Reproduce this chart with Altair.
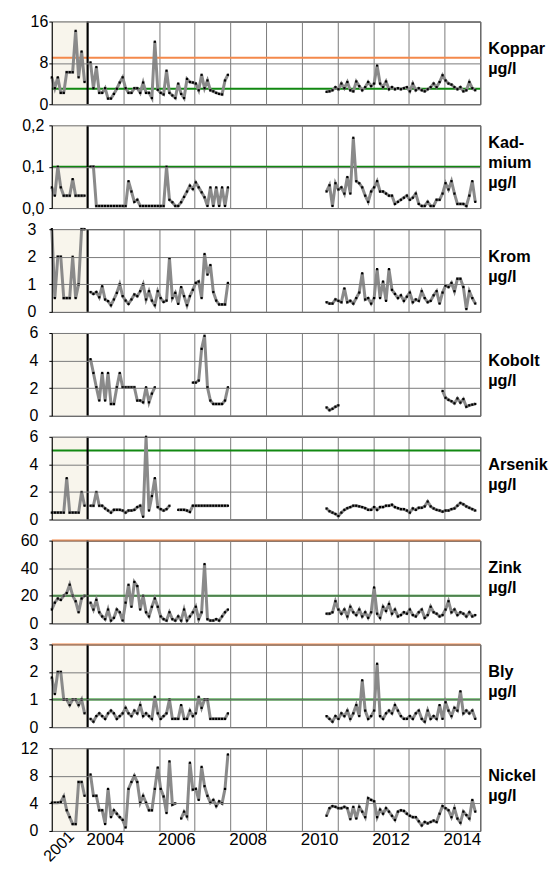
import altair as alt
import pandas as pd

# ---------------- data (µg/l) ----------------
# 2001 (12 samples), 2004-2007 (48 monthly), Sep 2010 - Nov 2014 (51 monthly)
koppar_2001 = [5.2, 3.1, 5.2, 2.2, 2.2, 6.2, 6.2, 6.2, 14.2, 5.2, 10.2, 4.3]
koppar_0407 = [8.1, 3.1, 7.2, 2.2, 2.2, 3.1, 1.1, 1.1, 2.0, 3.0, 4.2, 5.2, 3.1, 2.2, 2.2, 3.1,
               3.1, 2.2, 4.2, 2.2, 2.2, 1.2, 12.1, 2.8, 2.2, 1.9, 6.5, 2.2, 1.7, 1.2, 4.0, 2.0,
               1.2, 4.9, 4.3, 4.2, 4.0, 2.7, 5.7, 3.1, 4.6, 2.7, 2.5, 2.2, 2.0, 1.9, 4.6, 5.7]
koppar_1014 = [2.4, 2.5, 2.7, 3.3, 2.9, 4.0, 3.1, 4.3, 2.7, 2.5, 4.4, 3.5, 2.7, 3.3, 4.3, 3.5, 4.0,
               7.5, 4.0, 3.3, 4.4, 2.9, 3.3, 2.9, 3.1, 2.9, 3.1, 3.3, 2.5, 4.0, 2.7, 3.1, 2.7, 2.5,
               2.9, 3.3, 4.0, 3.3, 4.3, 5.6, 4.6, 4.0, 3.8, 3.3, 2.9, 3.3, 2.5, 2.7, 4.3, 3.1, 2.7]

kadmium_2001 = [0.05, 0.03, 0.1, 0.05, 0.03, 0.03, 0.03, 0.07, 0.03, 0.03, 0.03, 0.03]
kadmium_0407 = [0.1, 0.1, 0.005, 0.005, 0.005, 0.005, 0.005, 0.005, 0.005, 0.005, 0.005, 0.005,
                0.005, 0.065, 0.04, 0.015, 0.02, 0.005, 0.005, 0.005, 0.005, 0.005, 0.005, 0.005,
                0.005, 0.005, 0.1, 0.02, 0.014, 0.005, 0.005, 0.014, 0.027, 0.04, 0.054, 0.046,
                0.062, 0.05, 0.038, 0.026, 0.005, 0.05, 0.005, 0.05, 0.005, 0.05, 0.005, 0.05]
kadmium_1014 = [0.04, 0.055, 0.005, 0.06, 0.045, 0.05, 0.035, 0.075, 0.035, 0.17, 0.065, 0.06,
                0.05, 0.03, 0.015, 0.04, 0.05, 0.065, 0.04, 0.04, 0.035, 0.03, 0.03, 0.01, 0.015,
                0.02, 0.025, 0.03, 0.02, 0.025, 0.035, 0.01, 0.005, 0.005, 0.015, 0.005, 0.005,
                0.02, 0.02, 0.035, 0.06, 0.045, 0.065, 0.035, 0.01, 0.01, 0.01, 0.005, 0.03,
                0.065, 0.015]

krom_2001 = [3.0, 0.5, 2.0, 2.0, 0.5, 0.5, 0.5, 2.0, 0.5, 1.0, 3.0, 3.0]
krom_0407 = [0.72, 0.65, 0.72, 0.53, 0.93, 0.45, 0.39, 0.24, 0.45, 0.69, 1.0, 0.57, 0.41, 0.29,
             0.45, 0.63, 0.57, 0.75, 1.0, 0.45, 0.75, 0.41, 0.24, 0.75, 0.5, 0.36, 0.41, 1.95,
             0.5, 0.69, 0.29, 0.9, 0.57, 0.24, 0.57, 0.8, 1.05, 1.1, 0.5, 2.1, 1.35, 1.7, 0.72,
             0.41, 0.27, 0.27, 0.27, 1.05]
krom_1014 = [0.35, 0.3, 0.3, 0.45, 0.4, 0.35, 0.85, 0.35, 0.4, 0.3, 0.5, 0.7, 1.4, 0.45, 0.5,
             0.3, 0.5, 1.55, 0.5, 1.1, 0.4, 1.55, 0.8, 0.65, 0.5, 0.6, 0.4, 0.55, 0.7, 0.35,
             0.45, 0.4, 0.75, 0.5, 0.35, 0.4, 0.6, 0.75, 0.3, 0.7, 0.95, 0.9, 1.05, 0.75, 1.2,
             1.2, 0.9, 0.1, 0.75, 0.5, 0.3]

kobolt_2001 = [None] * 12
kobolt_0407 = [4.1, 3.1, 2.06, 1.1, 3.1, 1.1, 3.1, 0.85, 0.85, 2.06, 3.1, 2.06, 2.06, 2.06, 2.06,
               2.06, 1.1, 1.1, 0.97, 2.06, 0.97, 1.6, 2.06,
               None, None, None, None, None, None, None, None, None, None, None, None,
               2.4, 2.4, 2.55, 4.85, 5.8, 2.06, 1.1, 0.85, 0.85, 0.85, 0.85, 1.1, 2.06]
kobolt_1014 = [0.6, 0.4, 0.5, 0.65, 0.75] + [None] * 34 + \
              [1.8, 1.3, 1.15, 1.05, 0.9, 1.25, 0.95, 1.2, 0.65, 0.75, 0.8, 0.85]

arsenik_2001 = [0.5, 0.5, 0.5, 0.5, 0.5, 3.0, 0.5, 0.5, 0.5, 0.5, 2.0, 1.0]
arsenik_0407 = [1.0, 1.0, 2.0, 1.0, 1.0, 0.8, 0.65, 0.5, 0.7, 0.7, 0.7, 0.65, 0.5, 0.65, 0.65,
                0.7, 0.9, 1.0, 0.2, 6.0, 0.65, 1.7, 3.0, 0.9, 0.75, 0.65, 0.75, 1.0, None, None,
                0.7, 0.7, 0.7, 0.65, 0.55, 1.0, 1.0, 1.0, 1.0, 1.0, 1.0, 1.0, 1.0, 1.0, 1.0,
                1.0, 1.0, 1.0]
arsenik_1014 = [0.8, 0.6, 0.5, 0.4, 0.25, 0.5, 0.7, 0.82, 0.9, 1.0, 1.0, 0.95, 0.9, 0.82, 0.7,
                0.7, 0.9, 0.7, 0.9, 0.9, 1.0, 1.0, 1.07, 0.9, 0.82, 0.75, 0.75, 0.65, 0.5, 0.8,
                0.7, 0.85, 0.85, 0.95, 1.3, 0.95, 0.8, 0.7, 0.65, 0.57, 0.65, 0.65, 0.75, 0.8,
                1.0, 1.2, 1.1, 0.95, 0.85, 0.75, 0.65]

zink_2001 = [10, 15, 18, 17, 20, 22, 28, 20, 16, 8, 18, 20]
zink_0407 = [15, 10, 17, 8, 5, 3, 10, 2, 4, 10, 8, 2, 15, 28, 12, 30, 27, 10, 20, 8, 5, 12, 18,
             12, 5, 3, 2, 8, 3, 2, 5, 2, 10, 2, 5, 8, 12, 3, 8, 43, 3, 2, 2, 3, 2, 5, 8, 10]
zink_1014 = [7, 7, 8, 16, 10, 7, 10, 5, 12, 8, 6, 10, 5, 8, 4, 8, 26, 7, 4, 12, 9, 14, 7, 10, 5,
             6, 8, 7, 10, 6, 5, 8, 10, 4, 6, 12, 8, 7, 5, 6, 10, 16, 8, 10, 6, 8, 7, 5, 8, 5, 6]

bly_2001 = [1.8, 1.2, 2.0, 2.0, 1.0, 1.0, 0.8, 1.0, 1.0, 0.8, 1.0, 0.5]
bly_0407 = [0.3, 0.2, 0.4, 0.5, 0.4, 0.3, 0.5, 0.6, 0.5, 0.3, 0.4, 0.5, 0.7, 0.5, 0.4, 0.6, 0.5,
            0.8, 0.4, 0.5, 0.4, 0.3, 1.1, 0.5, 0.3, 0.4, 0.5, 1.0, 0.3, 0.3, 0.3, 0.8, 0.3, 0.3,
            0.6, 0.4, 0.5, 1.1, 0.7, 1.0, 1.0, 0.3, 0.3, 0.3, 0.3, 0.3, 0.3, 0.5]
bly_1014 = [0.4, 0.3, 0.2, 0.4, 0.3, 0.5, 0.4, 0.6, 0.3, 0.5, 0.8, 0.4, 1.7, 0.6, 0.3, 0.4, 0.6,
            2.3, 0.4, 0.3, 0.5, 0.6, 0.5, 0.8, 0.6, 0.4, 0.3, 0.3, 0.4, 0.3, 0.5, 0.6, 0.3, 0.2,
            0.6, 0.3, 0.4, 0.3, 0.8, 0.3, 0.9, 0.6, 0.4, 0.7, 0.6, 1.3, 0.5, 0.6, 0.5, 0.6, 0.3]

nickel_2001 = [4.1, 4.1, 4.1, 4.2, 5.0, 3.0, 2.0, 1.0, 1.0, 7.1, 7.1, 5.1]
nickel_0407 = [8.2, 5.1, 5.1, 3.0, 3.0, 1.0, 6.1, 2.0, 3.0, 2.5, 2.0, 1.6, 0.5, 6.1, 7.1, 8.0,
               7.1, 4.1, 5.1, 4.1, 3.0, 3.0, 6.1, 9.2, 6.1, 5.0, 2.6, 10.1, 3.8, 4.0, None, 1.8,
               2.8, 2.1, 9.9, 6.0, 6.1, 4.5, 9.3, 6.5, 5.1, 4.1, 4.5, 3.6, 4.3, 4.0, 6.1, 11.1]
nickel_1014 = [2.2, 3.3, 3.6, 3.5, 3.3, 3.3, 3.5, 3.3, 1.7, 3.5, 1.8, 3.5, 2.8, 2.0, 4.75, 4.5,
               4.3, 2.0, 3.1, 2.5, 3.3, 2.8, 2.2, 1.6, 2.8, 3.0, 2.9, 2.5, 2.2, 2.0, 2.0, 1.4, 0.8,
               1.3, 1.1, 1.3, 1.5, 1.3, 2.5, 3.6, 3.3, 3.0, 2.0, 3.3, 1.8, 1.2, 2.8, 2.3, 1.8, 4.5,
               2.8]

panel_labels = ["Koppar\nµg/l", "Kad-\nmium\nµg/l", "Krom\nµg/l", "Kobolt\nµg/l",
                "Arsenik\nµg/l", "Zink\nµg/l", "Bly\nµg/l", "Nickel\nµg/l"]
y_max = [16, 0.2, 3, 6, 6, 60, 3, 12]
y_ticks = [[0, 8, 16], [0, 0.1, 0.2], [0, 1, 2, 3], [0, 2, 4, 6], [0, 2, 4, 6],
           [0, 20, 40, 60], [0, 1, 2, 3], [0, 4, 8, 12]]
orange_limit = [9, None, None, None, None, 60, 3, None]
green_limit = [3, 0.1, None, None, 5, 20, 1, None]
year_labels = ["2004", "2006", "2008", "2010", "2012", "2014"]
first_label = "2001"

series = [
    (koppar_2001, koppar_0407, koppar_1014),
    (kadmium_2001, kadmium_0407, kadmium_1014),
    (krom_2001, krom_0407, krom_1014),
    (kobolt_2001, kobolt_0407, kobolt_1014),
    (arsenik_2001, arsenik_0407, arsenik_1014),
    (zink_2001, zink_0407, zink_1014),
    (bly_2001, bly_0407, bly_1014),
    (nickel_2001, nickel_0407, nickel_1014),
]

# ---------------- helpers ----------------
# x axis: slot 0 = 2001, slot n = 2003 + n for 2004..2014
def time_pos(part, i):
    if part == 0:
        return i / 12
    if part == 1:
        return 1.083 + 0.0819 * i
    return 7.694 + i / 12


def build_df(parts):
    rows, seg = [], 0
    for p, vals in enumerate(parts):
        prev = None
        for i, v in enumerate(vals):
            if v is None:
                prev = None
                continue
            if prev is None:
                seg += 1
            rows.append({"x": time_pos(p, i), "v": v, "seg": seg})
            prev = v
    return pd.DataFrame(rows)


W, H = 430, 83
GRID = "#7a7a7a"
FONT = "Liberation Sans"
label_pad = [1, 5, 13, 11, 11, 11, 11, 11]

xscale = alt.Scale(domain=[0, 12], nice=False, zero=False)
xaxis = alt.Axis(values=list(range(13)), grid=True, gridColor=GRID, labels=False,
                 ticks=False, domain=False, title=None)

panels = []
for idx, parts in enumerate(series):
    df = build_df(parts)
    comma = idx == 1
    yaxis = alt.Axis(
        values=y_ticks[idx], title=None, grid=True, gridColor=GRID, domainColor="black",
        tickColor="black", tickSize=3, labelPadding=label_pad[idx], labelFontSize=16,
        labelFont=FONT, labelColor="black", zindex=1,
        labelExpr=("replace(format(datum.value, '.1f'), '.', ',')" if comma
                   else "format(datum.value, 'd')"))
    yscale = alt.Scale(domain=[0, y_max[idx]], nice=False, zero=True)
    X = alt.X("x:Q", scale=xscale, axis=xaxis)

    shade = alt.Chart(pd.DataFrame({"x": [0], "x2": [1]})).mark_rect(
        color="#f8f5ec").encode(x=X, x2="x2:Q", y=alt.value(0), y2=alt.value(H))
    layers = [shade]
    if orange_limit[idx] is not None:
        layers.append(alt.Chart(pd.DataFrame({"y": [orange_limit[idx]]})).mark_rule(
            color="#f4894b", strokeWidth=2).encode(y=alt.Y("y:Q", scale=yscale, axis=yaxis)))
    if green_limit[idx] is not None:
        layers.append(alt.Chart(pd.DataFrame({"y": [green_limit[idx]]})).mark_rule(
            color="#118811", strokeWidth=2).encode(y=alt.Y("y:Q", scale=yscale, axis=yaxis)))
    Y = alt.Y("v:Q", scale=yscale, axis=yaxis)
    layers.append(alt.Chart(df).mark_line(color="#8a8a8a", strokeWidth=3).encode(
        x=X, y=Y, detail="seg:N"))
    layers.append(alt.Chart(df).mark_square(size=5, color="black", opacity=1).encode(x=X, y=Y))
    layers.append(alt.Chart(pd.DataFrame({"x": [1]})).mark_rule(
        color="black", strokeWidth=2).encode(x=X))
    n_lines = panel_labels[idx].count("\n") + 1
    layers.append(alt.Chart(pd.DataFrame({"t": [panel_labels[idx]]})).mark_text(
        align="left", baseline="middle", fontSize=16.3, fontWeight="bold", font=FONT,
        lineBreak="\n", lineHeight=20, color="black").encode(
        text="t:N", x=alt.value(W + 8), y=alt.value(38 - (n_lines - 1) * 10)))
    if idx == len(series) - 1:
        ylab = pd.DataFrame({"x": [2 * k + 1.5 for k in range(len(year_labels))],
                             "t": year_labels})
        layers.append(alt.Chart(ylab).mark_text(
            fontSize=17, font=FONT, baseline="middle", color="black").encode(
            x=X, text="t:N", y=alt.value(H + 9)))
        layers.append(alt.Chart(pd.DataFrame({"x": [0.55], "t": [first_label]})).mark_text(
            fontSize=16, font=FONT, baseline="middle", align="right", angle=315,
            color="black").encode(x=X, text="t:N", y=alt.value(H + 3)))
    panels.append(alt.layer(*layers).properties(width=W, height=H))

chart = alt.vconcat(*panels, spacing=21.2, bounds="flush").properties(
    padding={"left": 11, "top": 3, "right": 0, "bottom": 0}
).configure_view(stroke="black", strokeWidth=1)

chart.save("out.html", embed_options={"renderer": "svg", "actions": False})
